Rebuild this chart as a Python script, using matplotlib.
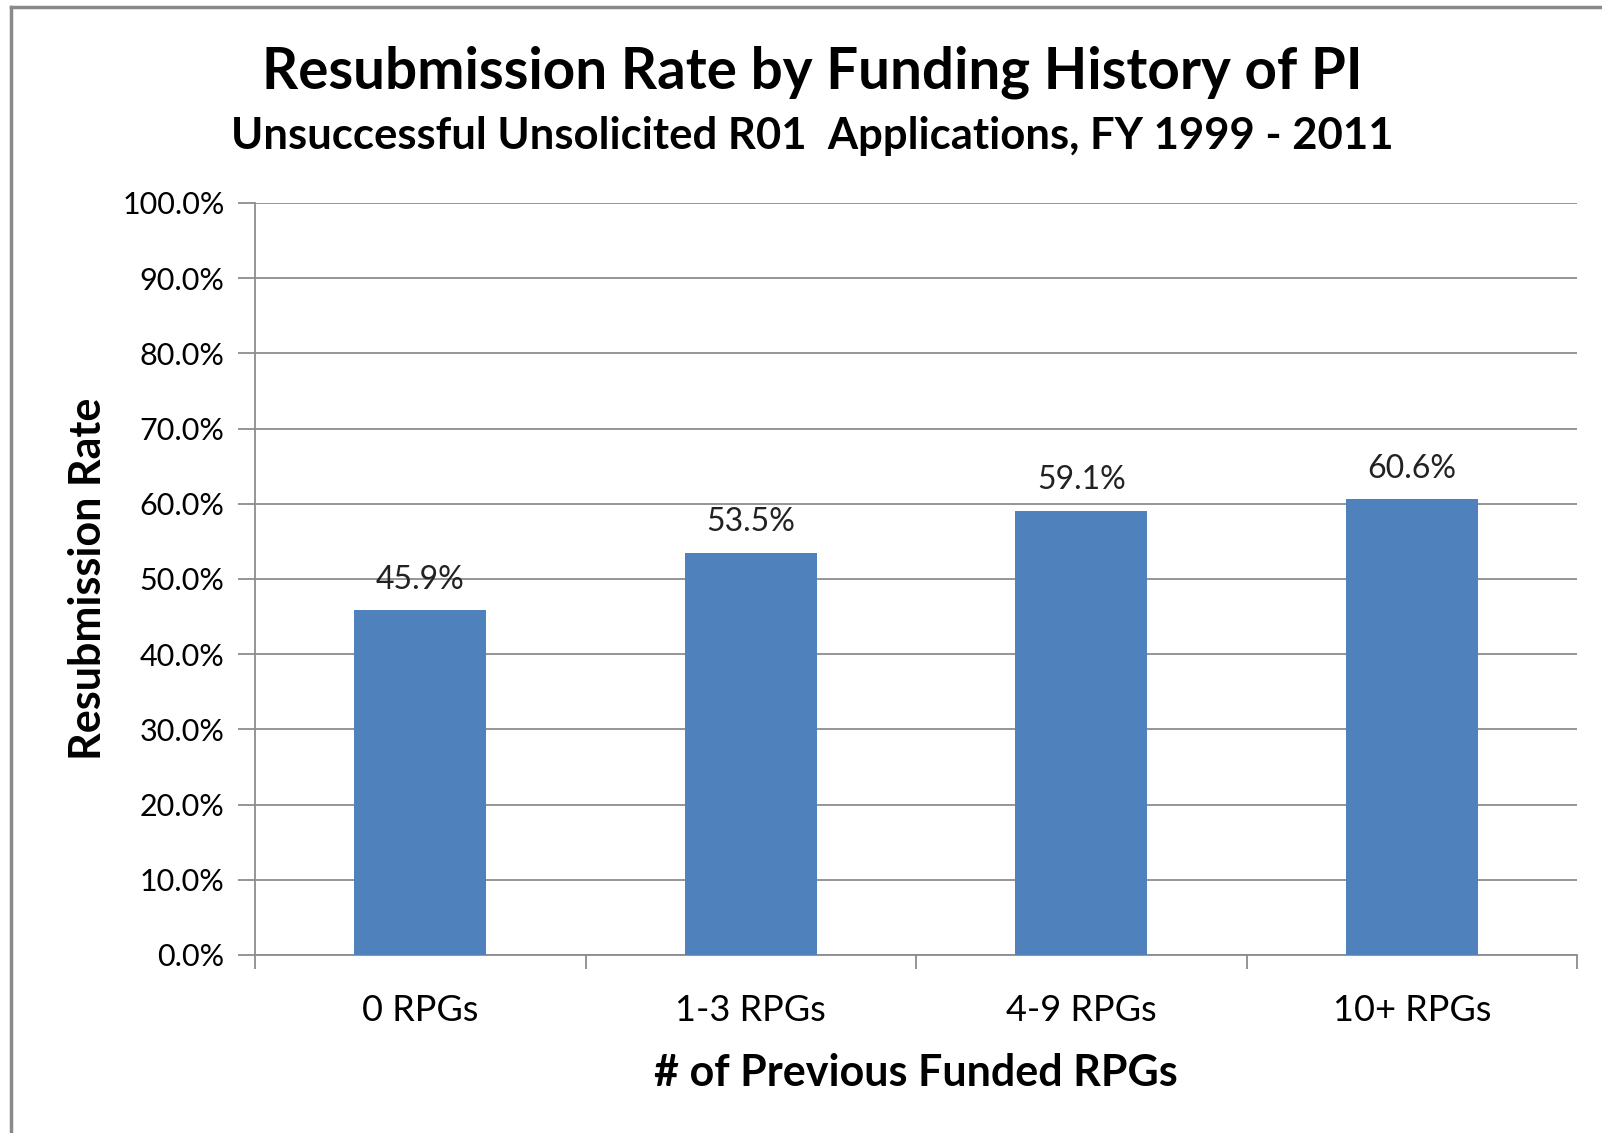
import matplotlib
matplotlib.use("Agg")
import matplotlib.pyplot as plt
from matplotlib.lines import Line2D
from matplotlib.ticker import FixedLocator, PercentFormatter

# data
categories = ["0 RPGs", "1-3 RPGs", "4-9 RPGs", "10+ RPGs"]
resub_rate = [45.9, 53.5, 59.1, 60.6]

plt.rcParams['font.family'] = ['Lato', 'DejaVu Sans']

W, H = 1602, 1133
fig = plt.figure(figsize=(W / 100, H / 100), dpi=100)
ax = fig.add_axes([255 / W, 1 - 955 / H, (1577 - 255) / W, (955 - 203) / H])

x = range(len(categories))
bars = ax.bar(x, resub_rate, width=0.4, color="#4F81BD", zorder=3)

# data labels above bars
for rect, v in zip(bars, resub_rate):
    ax.annotate(f"{v:.1f}%", (rect.get_x() + rect.get_width() / 2, v),
                xytext=(0, 11), textcoords="offset points",
                ha="center", va="bottom", fontsize=23, color="#222222")

ax.set_xlim(-0.5, len(categories) - 0.5)
ax.set_ylim(0, 100)
ax.set_yticks(range(0, 101, 10))
ax.yaxis.set_major_formatter(PercentFormatter(decimals=1))
ax.grid(axis="y", color="#8c8c8c", linewidth=1.3, zorder=0)

# ticks between categories, labels centred on bars
ax.xaxis.set_major_locator(FixedLocator([i - 0.5 for i in range(len(categories) + 1)]))
ax.xaxis.set_major_formatter(plt.NullFormatter())
ax.xaxis.set_minor_locator(FixedLocator(list(x)))
ax.set_xticklabels(categories, minor=True)
ax.tick_params(axis="x", which="minor", length=0, labelsize=26, pad=28)
ax.tick_params(axis="x", which="major", length=10, color="#8c8c8c", width=1.3)
ax.tick_params(axis="y", length=12, color="#8c8c8c", width=1.3, labelsize=22, pad=10)

for side in ["top", "right"]:
    ax.spines[side].set_visible(False)
for side in ["left", "bottom"]:
    ax.spines[side].set_color("#8c8c8c")
    ax.spines[side].set_linewidth(1.3)

ax.set_xlabel("# of Previous Funded RPGs", fontsize=31, fontweight="bold", labelpad=19)
ax.set_ylabel("Resubmission Rate", fontsize=31, fontweight="bold", labelpad=10)

fig.text(812 / W, 1 - 72 / H, "Resubmission Rate by Funding History of PI",
         ha="center", va="center", fontsize=40.7, fontweight="bold")
fig.text(812 / W, 1 - 136 / H, "Unsuccessful Unsolicited R01  Applications, FY 1999 - 2011",
         ha="center", va="center", fontsize=31.4, fontweight="bold")

# outer chart frame (left and top edges visible)
fig.add_artist(Line2D([10.5 / W, 10.5 / W], [0, 1 - 6.5 / H], color="#8a8a8a", linewidth=2.5,
                      transform=fig.transFigure))
fig.add_artist(Line2D([10.5 / W, 1], [1 - 6.5 / H, 1 - 6.5 / H], color="#8a8a8a", linewidth=2.5,
                      transform=fig.transFigure))

fig.savefig("out.png", dpi=100)
